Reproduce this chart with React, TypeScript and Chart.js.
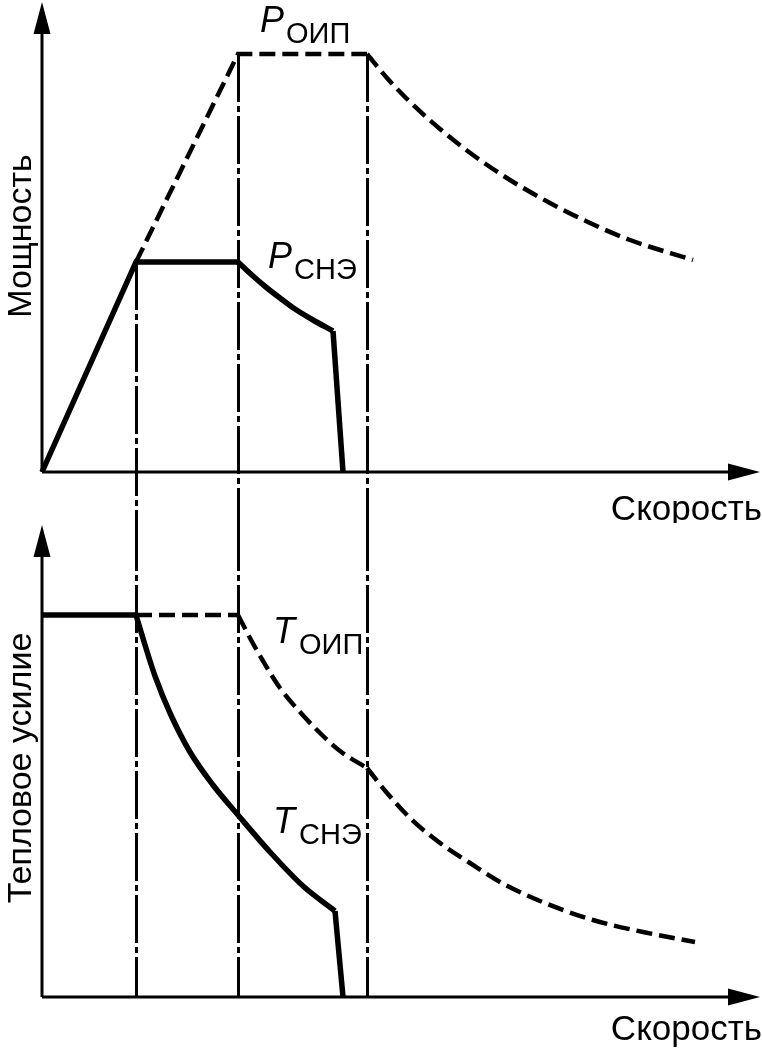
import React, { useEffect, useRef } from "react";
import { Chart, registerables } from "chart.js";

Chart.register(...registerables);

// ---- data (speed in arbitrary units, power / force in arbitrary units) ----
const SPEED_MAX = 71.8;
const POWER_MAX = 47;
const FORCE_MAX = 47.2;

const pSneX = [0, 9.4, 19.6, 21.1, 22.5, 23.8, 25.3, 27.1, 29.1, 30.1];
const pSneY = [0, 21, 21, 19.6, 18.4, 17.4, 16.3, 15.2, 14.1, 0];
const pSneCurves = [[2, 8]]; // index ranges of the smooth (curved) stretches

const pOipX = [9.4, 19.6, 32.5, 34.5, 36.5, 39.8, 43.1, 46.8, 50.8, 54.8, 58.8, 65.1];
const pOipY = [21, 41.8, 41.8, 39.4, 37.3, 34.3, 31.7, 29.2, 26.9, 24.9, 23.2, 21.2];
const pOipCurves = [[2, 11]];

const tSneX = [0, 9.4, 10.3, 11.3, 12.8, 14.8, 17.1, 19.6, 22.8, 26.1, 29.3, 30.1];
const tSneY = [38.2, 38.2, 35.2, 32.1, 28.4, 24.5, 21.2, 18.2, 14.5, 11.1, 8.6, 0];
const tSneCurves = [[1, 10]];

const tOipX = [9.4, 19.6, 20.8, 22.1, 23.8, 25.8, 27.8, 29.8, 32.5, 34.5, 36.8, 39.8, 42.8, 45.8, 49.8, 55.1, 60.1, 65.3];
const tOipY = [38.2, 38.2, 35.9, 33.6, 30.9, 28.5, 26.4, 24.6, 22.9, 20.4, 17.9, 15.4, 13.4, 11.5, 9.6, 7.7, 6.5, 5.5];
const tOipCurves = [[1, 8], [8, 17]];

const speedMarks = [9.4, 19.6, 32.5];
const powerMarkTops = [21, 41.8, 41.8];

const xLabel = "Скорость";
const topYLabel = "Мощность";
const bottomYLabel = "Тепловое усилие";

const FONT = "'Liberation Sans', Arial, sans-serif";

type SeriesLabel = { main: string; sub: string; x: number; y: number };

const topSeriesLabels: SeriesLabel[] = [
  { main: "P", sub: "ОИП", x: 21.8, y: 44.0 },
  { main: "P", sub: "СНЭ", x: 22.6, y: 20.4 },
];
const bottomSeriesLabels: SeriesLabel[] = [
  { main: "T", sub: "ОИП", x: 23.1, y: 35.4 },
  { main: "T", sub: "СНЭ", x: 23.1, y: 16.4 },
];

type Pt = { x: number; y: number };
type Piece = { pts: Pt[]; smooth: boolean };

// split a series into straight and curved pieces so corners stay sharp
function pieces(xs: number[], ys: number[], curves: number[][]): Piece[] {
  const pts = xs.map((x, i) => ({ x, y: ys[i] }));
  const out: Piece[] = [];
  let cur = 0;
  curves.forEach(([a, b]) => {
    if (a > cur) out.push({ pts: pts.slice(cur, a + 1), smooth: false });
    out.push({ pts: pts.slice(a, b + 1), smooth: true });
    cur = b;
  });
  if (cur < pts.length - 1) out.push({ pts: pts.slice(cur), smooth: false });
  return out;
}

type PanelProps = {
  height: number;
  yMax: number;
  padBottom: number;
  yTitle: string;
  yTitleCenter: number;
  xTitleBaseline: number;
  solid: Piece[];
  dashed: Piece[];
  labels: SeriesLabel[];
  markMode: "top" | "bottom";
};

function Panel(props: PanelProps) {
  const ref = useRef<HTMLCanvasElement | null>(null);
  useEffect(() => {
    const canvas = ref.current;
    if (!canvas) return;

    const decor = {
      id: "decor",
      beforeDatasetsDraw(chart: any) {
        const { ctx, chartArea, scales } = chart;
        const xs = scales.x;
        const ys = scales.y;
        ctx.save();
        // vertical dash-dot marks
        ctx.strokeStyle = "#000";
        ctx.lineWidth = 3;
        ctx.setLineDash([48, 4, 6, 4]);
        speedMarks.forEach((v, i) => {
          const px = Math.round(xs.getPixelForValue(v)) + 0.5;
          let y0: number, y1: number;
          if (props.markMode === "top") {
            y0 = ys.getPixelForValue(powerMarkTops[i]);
            y1 = chart.height;
          } else {
            y0 = 0;
            y1 = chartArea.bottom;
          }
          ctx.beginPath();
          ctx.moveTo(px, y0);
          ctx.lineTo(px, y1);
          ctx.stroke();
        });
        ctx.setLineDash([]);
        // axes
        const ox = xs.getPixelForValue(0);
        const oy = ys.getPixelForValue(0);
        ctx.lineWidth = 3;
        ctx.beginPath();
        ctx.moveTo(ox, oy);
        ctx.lineTo(chartArea.right - 20, oy);
        ctx.moveTo(ox, oy);
        ctx.lineTo(ox, chartArea.top + 20);
        ctx.stroke();
        ctx.fillStyle = "#000";
        // y arrow
        ctx.beginPath();
        ctx.moveTo(ox, chartArea.top);
        ctx.lineTo(ox - 8.5, chartArea.top + 32);
        ctx.lineTo(ox + 8.5, chartArea.top + 32);
        ctx.closePath();
        ctx.fill();
        // x arrow
        ctx.beginPath();
        ctx.moveTo(chartArea.right, oy);
        ctx.lineTo(chartArea.right - 32, oy - 8.5);
        ctx.lineTo(chartArea.right - 32, oy + 8.5);
        ctx.closePath();
        ctx.fill();
        ctx.restore();
      },
      afterDatasetsDraw(chart: any) {
        const { ctx, scales } = chart;
        const xs = scales.x;
        const ys = scales.y;
        ctx.save();
        ctx.fillStyle = "#000";
        ctx.textBaseline = "alphabetic";
        // x title
        ctx.font = `35px ${FONT}`;
        ctx.textAlign = "right";
        ctx.fillText(xLabel, chart.width, props.xTitleBaseline);
        // y title
        ctx.font = `34px ${FONT}`;
        ctx.save();
        ctx.translate(31, props.yTitleCenter);
        ctx.rotate(-Math.PI / 2);
        ctx.textAlign = "center";
        ctx.fillText(props.yTitle, 0, 0);
        ctx.restore();
        // series labels
        ctx.textAlign = "left";
        props.labels.forEach((l) => {
          const px = xs.getPixelForValue(l.x);
          const py = ys.getPixelForValue(l.y);
          ctx.font = `italic 36px ${FONT}`;
          ctx.fillText(l.main, px, py);
          ctx.font = `29px ${FONT}`;
          ctx.fillText(l.sub, px + 26, py + 11);
        });
        ctx.restore();
      },
    };

    const mk = (p: Piece, dashed: boolean) =>
      ({
        data: p.pts,
        borderColor: "#000",
        borderWidth: dashed ? 4.5 : 5.5,
        borderDash: dashed ? [16, 7] : [],
        pointRadius: 0,
        tension: p.smooth ? 0.4 : 0,
        cubicInterpolationMode: p.smooth ? "monotone" : "default",
        fill: false,
        clip: false,
        borderJoinStyle: "miter",
        borderCapStyle: "butt",
      }) as any;

    const chart = new Chart(canvas, {
      type: "line",
      data: {
        datasets: [
          ...props.dashed.map((p) => mk(p, true)),
          ...props.solid.map((p) => mk(p, false)),
        ],
      },
      options: {
        animation: false,
        responsive: false,
        maintainAspectRatio: false,
        devicePixelRatio: 1,
        layout: { padding: { left: 42, right: 2, top: 2, bottom: props.padBottom } },
        scales: {
          x: { type: "linear", min: 0, max: SPEED_MAX, display: false },
          y: { type: "linear", min: 0, max: props.yMax, display: false },
        },
        plugins: { legend: { display: false }, tooltip: { enabled: false } },
        events: [],
      },
      plugins: [decor],
    });
    return () => chart.destroy();
  }, []);
  return (
    <canvas
      ref={ref}
      width={762}
      height={props.height}
      style={{ display: "block", width: 762, height: props.height }}
    />
  );
}

export default function App() {
  useEffect(() => {
    document.body.style.margin = "0";
    document.body.style.background = "#fff";
  }, []);
  return (
    <div style={{ width: 762, height: 1050, background: "#fff" }}>
      <Panel
        height={523}
        yMax={POWER_MAX}
        padBottom={51}
        yTitle={topYLabel}
        yTitleCenter={236}
        xTitleBaseline={520}
        solid={pieces(pSneX, pSneY, pSneCurves)}
        dashed={pieces(pOipX, pOipY, pOipCurves)}
        labels={topSeriesLabels}
        markMode="top"
      />
      <Panel
        height={527}
        yMax={FORCE_MAX}
        padBottom={53}
        yTitle={bottomYLabel}
        yTitleCenter={245}
        xTitleBaseline={517}
        solid={pieces(tSneX, tSneY, tSneCurves)}
        dashed={pieces(tOipX, tOipY, tOipCurves)}
        labels={bottomSeriesLabels}
        markMode="bottom"
      />
    </div>
  );
}
